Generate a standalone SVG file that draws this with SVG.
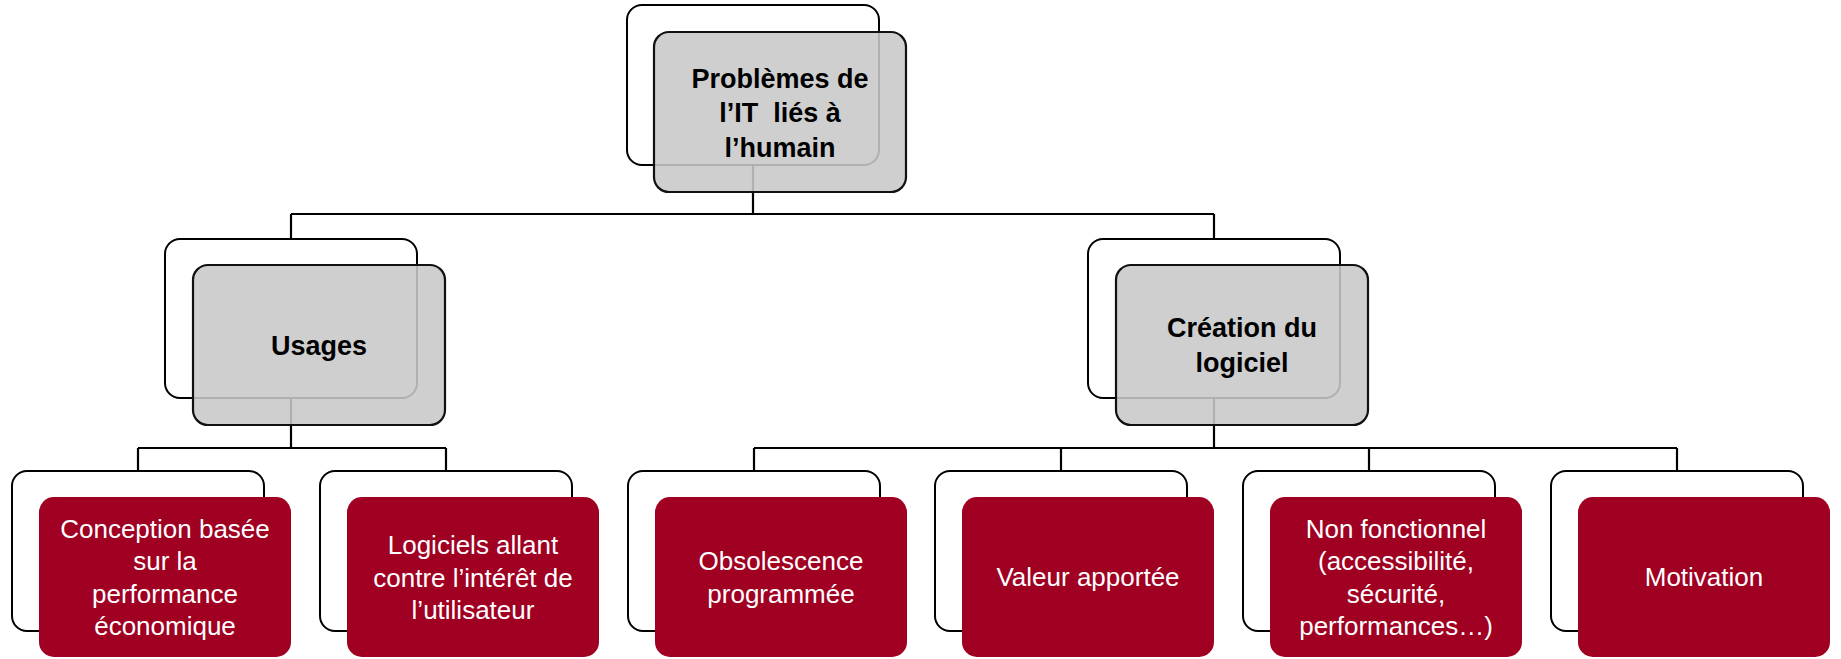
<svg xmlns="http://www.w3.org/2000/svg" width="1841" height="659" viewBox="0 0 1841 659">
<style>
.bg{fill:#ffffff}
.back{fill:#ffffff;stroke:#000000;stroke-width:2}
.gray{fill:#c8c8c8;fill-opacity:0.88;stroke:#111111;stroke-width:2.2}
.red{fill:#a00021;stroke:none}
.conn{fill:none;stroke:#000000;stroke-width:2.2}
.tb{font-family:"Liberation Sans",Arial,sans-serif;font-weight:bold;font-size:27px;fill:#000000;text-anchor:middle}
.tw{font-family:"Liberation Sans",Arial,sans-serif;font-size:26px;fill:#ffffff;text-anchor:middle}
</style>
<rect class="bg" x="0" y="0" width="1841" height="659"/>
<g id="connectors">
<path class="conn" d="M753,165 V214 M291,214 H1214 M291,214 V239 M1214,214 V239"/>
<path class="conn" d="M291,398 V448 M138,448 H446 M138,448 V471 M446,448 V471"/>
<path class="conn" d="M1214,398 V448 M754,448 H1677 M754,448 V471 M1061,448 V471 M1369,448 V471 M1677,448 V471"/>
</g>
<g id="root">
<rect class="back" x="627" y="5" width="252" height="160" rx="15"/>
<rect class="gray" x="654" y="32" width="252" height="160" rx="15"/>
<text class="tb" xml:space="preserve"><tspan x="780" y="87.5">Problèmes de</tspan><tspan x="780" y="122">l’IT  liés à</tspan><tspan x="780" y="156.5">l’humain</tspan></text>
</g>
<g id="usages">
<rect class="back" x="165" y="239" width="252" height="159" rx="15"/>
<rect class="gray" x="193" y="265" width="252" height="160" rx="15"/>
<text class="tb" x="319" y="355">Usages</text>
</g>
<g id="creation">
<rect class="back" x="1088" y="239" width="252" height="159" rx="15"/>
<rect class="gray" x="1116" y="265" width="252" height="160" rx="15"/>
<text class="tb"><tspan x="1242" y="337">Création du</tspan><tspan x="1242" y="372">logiciel</tspan></text>
</g>
<g id="leaf-conception">
<rect class="back" x="12" y="471" width="252" height="160" rx="15"/>
<rect class="red" x="39" y="497" width="252" height="160" rx="15"/>
<text class="tw"><tspan x="165" y="537.5">Conception basée</tspan><tspan x="165" y="570">sur la</tspan><tspan x="165" y="602.5">performance</tspan><tspan x="165" y="635">économique</tspan></text>
</g>
<g id="leaf-logiciels">
<rect class="back" x="320" y="471" width="252" height="160" rx="15"/>
<rect class="red" x="347" y="497" width="252" height="160" rx="15"/>
<text class="tw"><tspan x="473" y="554">Logiciels allant</tspan><tspan x="473" y="586.5">contre l’intérêt de</tspan><tspan x="473" y="619">l’utilisateur</tspan></text>
</g>
<g id="leaf-obsolescence">
<rect class="back" x="628" y="471" width="252" height="160" rx="15"/>
<rect class="red" x="655" y="497" width="252" height="160" rx="15"/>
<text class="tw"><tspan x="781" y="570">Obsolescence</tspan><tspan x="781" y="602.5">programmée</tspan></text>
</g>
<g id="leaf-valeur">
<rect class="back" x="935" y="471" width="252" height="160" rx="15"/>
<rect class="red" x="962" y="497" width="252" height="160" rx="15"/>
<text class="tw" x="1088" y="586">Valeur apportée</text>
</g>
<g id="leaf-nonfonctionnel">
<rect class="back" x="1243" y="471" width="252" height="160" rx="15"/>
<rect class="red" x="1270" y="497" width="252" height="160" rx="15"/>
<text class="tw"><tspan x="1396" y="537.5">Non fonctionnel</tspan><tspan x="1396" y="570">(accessibilité,</tspan><tspan x="1396" y="602.5">sécurité,</tspan><tspan x="1396" y="635">performances…)</tspan></text>
</g>
<g id="leaf-motivation">
<rect class="back" x="1551" y="471" width="252" height="160" rx="15"/>
<rect class="red" x="1578" y="497" width="252" height="160" rx="15"/>
<text class="tw" x="1704" y="586">Motivation</text>
</g>
</svg>
